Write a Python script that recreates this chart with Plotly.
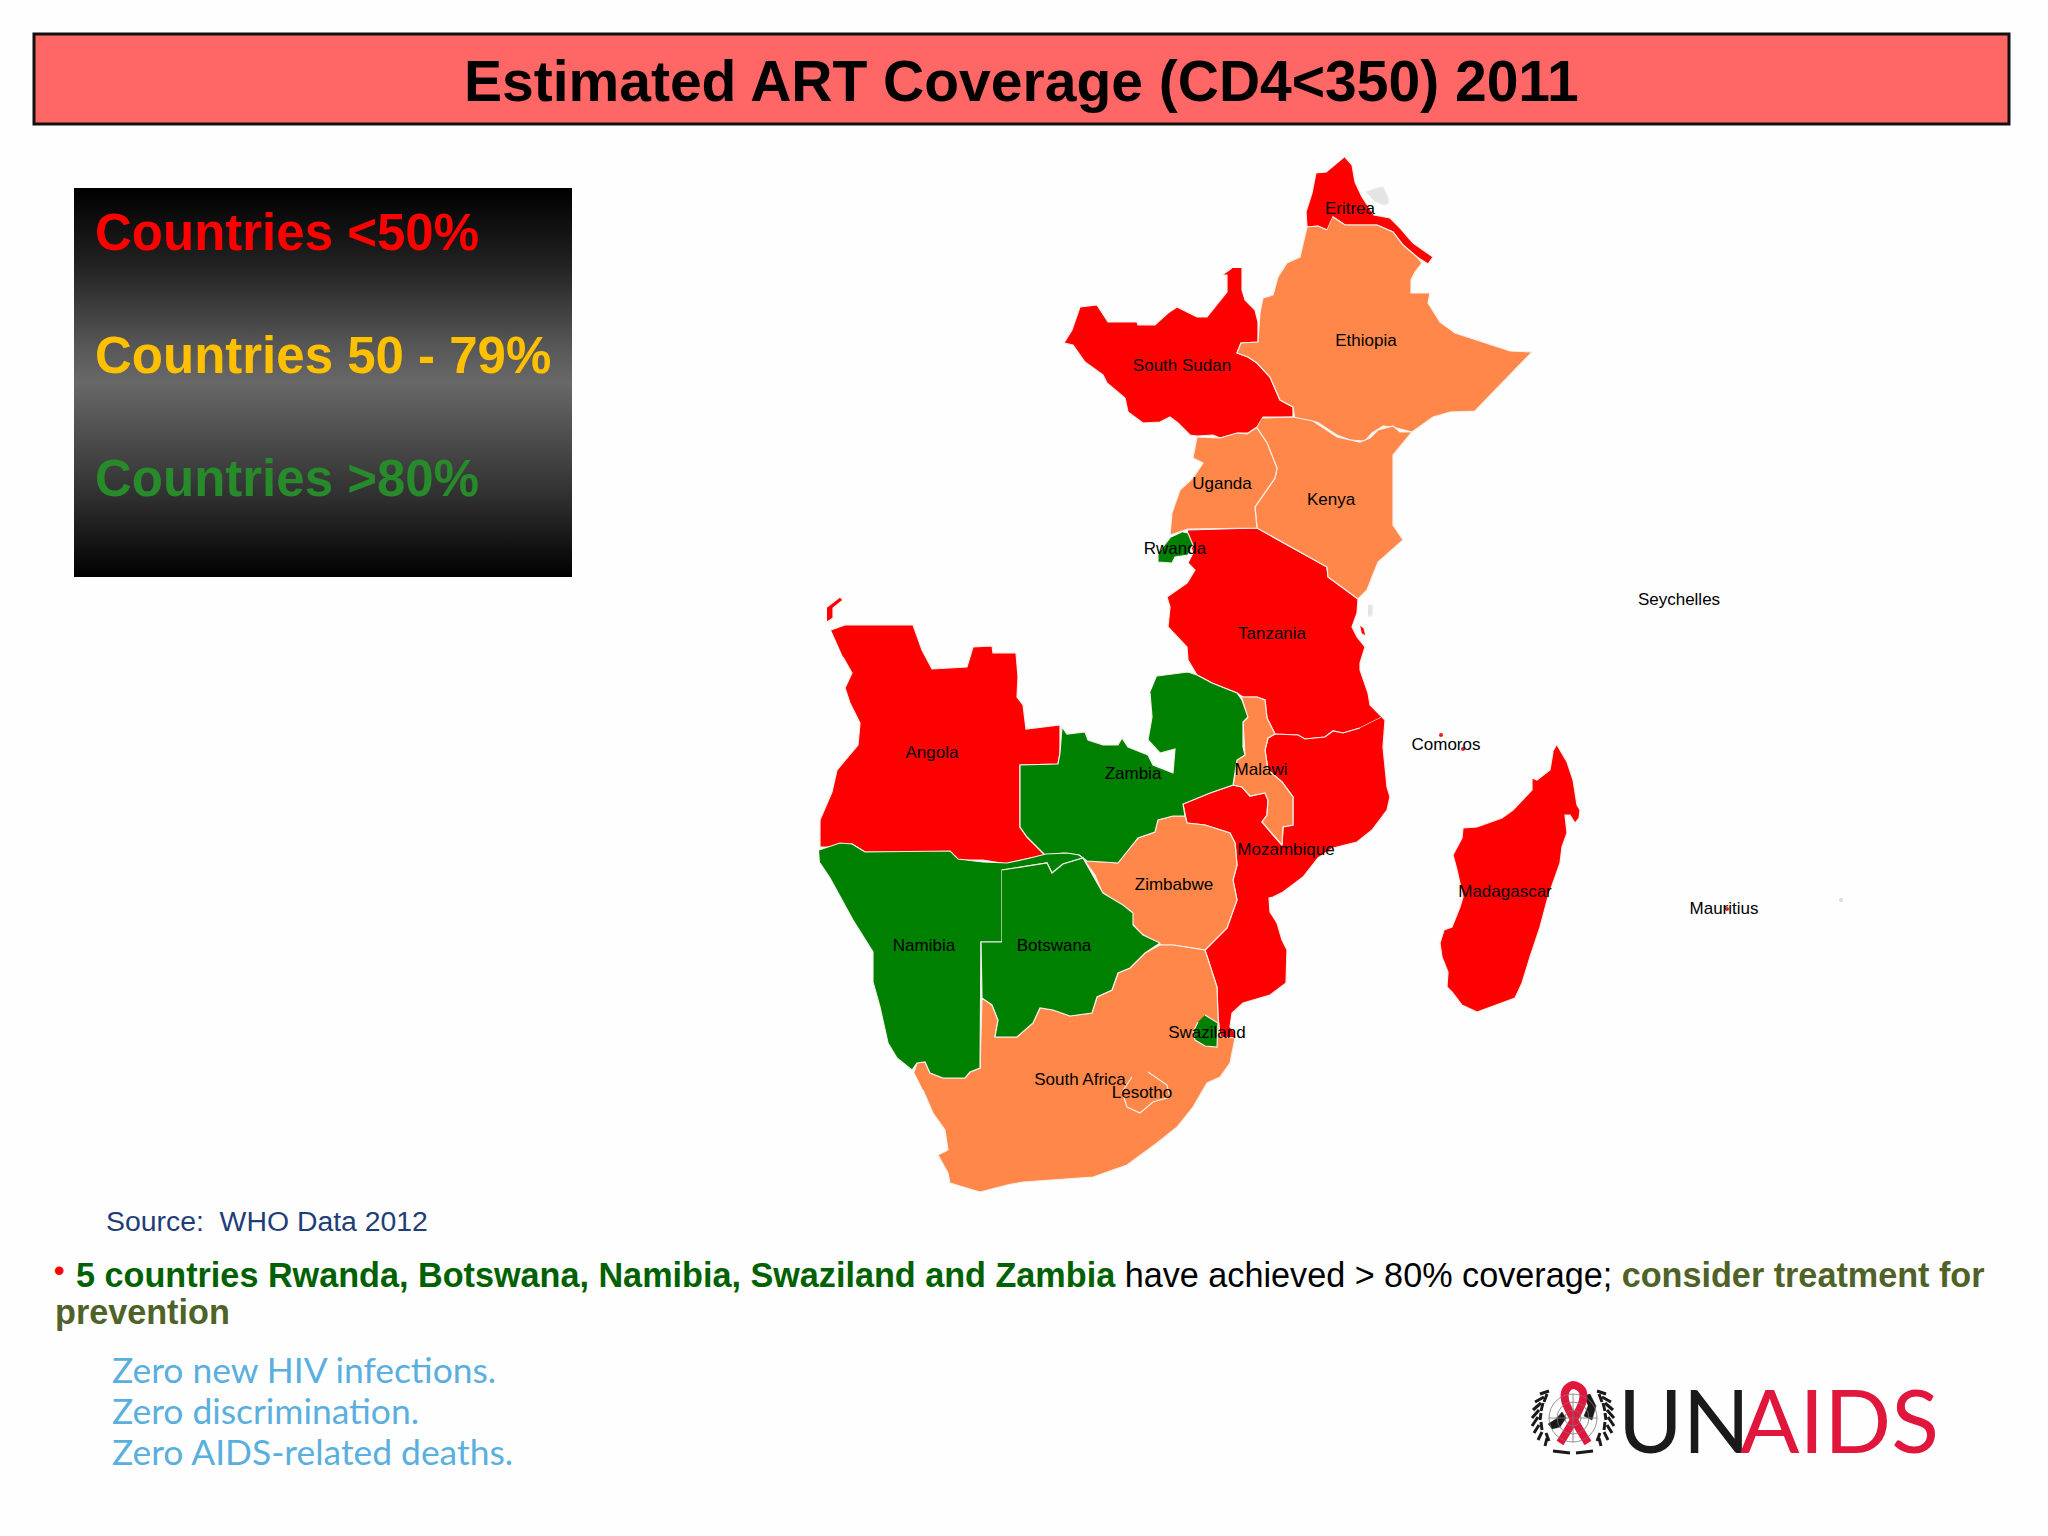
import plotly.graph_objects as go

# slide title and legend
TITLE = "Estimated ART Coverage (CD4<350) 2011"
LEGEND_TEXT = ["Countries <50%", "Countries 50 - 79%", "Countries >80%"]
LEGEND_COLOURS = ["#FF0000", "#FFC000", "#278A2B"]
LEGEND_Y = [232, 355, 478]

RED = "#FF0000"
ORANGE = "#FF8749"
GREEN = "#008000"

# country outlines
ERITREA = [(1345,157),(1352,165),(1355,182),(1362,197),(1374,215),(1390,218),(1400,228),(1413,243),(1433,257),(1428,264),(1417,257),(1403,245),(1393,232),(1377,225),(1358,225),(1345,225),(1333,217),(1327,230),(1318,226),(1307,227),(1306,212),(1312,193),(1316,173),(1327,172)]
ETHIOPIA = [(1333,217),(1345,225),(1358,225),(1377,225),(1393,232),(1403,245),(1417,257),(1422,263),(1415,272),(1411,280),(1411,293),(1430,293),(1428,303),(1440,322),(1455,333),(1483,342),(1510,351),(1532,352),(1512,373),(1493,393),(1475,411),(1450,412),(1433,417),(1412,432),(1393,427),(1383,426),(1372,433),(1365,441),(1350,440),(1337,435),(1317,422),(1295,420),(1293,407),(1280,400),(1270,377),(1257,363),(1248,357),(1237,353),(1241,343),(1258,342),(1260,313),(1263,298),(1273,295),(1278,277),(1287,263),(1300,257),(1307,227),(1318,226),(1327,230)]
SOUTH_SUDAN = [(1242,268),(1242,290),(1245,300),(1255,310),(1258,322),(1258,342),(1241,343),(1237,353),(1248,357),(1257,363),(1270,377),(1280,400),(1293,407),(1293,417),(1263,417),(1257,427),(1248,433),(1238,433),(1220,438),(1213,435),(1197,436),(1190,435),(1178,423),(1170,417),(1160,422),(1143,423),(1128,412),(1125,398),(1107,383),(1103,375),(1085,362),(1073,345),(1064,343),(1072,330),(1080,307),(1097,305),(1108,322),(1137,322),(1138,325),(1155,325),(1168,313),(1177,307),(1197,317),(1207,317),(1227,292),(1227,275),(1222,275),(1232,268)]
KENYA = [(1262,418),(1293,417),(1313,421),(1337,437),(1360,442),(1370,438),(1378,430),(1393,426),(1400,432),(1412,432),(1393,455),(1393,525),(1403,540),(1388,553),(1378,562),(1372,577),(1367,590),(1358,599),(1328,577),(1327,567),(1257,528),(1255,507),(1275,478),(1277,468),(1267,443),(1257,428)]
UGANDA = [(1257,428),(1267,443),(1277,468),(1275,478),(1255,507),(1257,528),(1188,529),(1170,535),(1172,513),(1180,490),(1193,478),(1203,463),(1193,458),(1197,437),(1220,438),(1237,433),(1248,434)]
TANZANIA = [(1188,530),(1257,528),(1327,567),(1328,577),(1358,599),(1357,613),(1352,627),(1357,637),(1365,647),(1360,663),(1360,670),(1368,693),(1370,705),(1382,717),(1360,728),(1343,733),(1333,731),(1325,737),(1305,739),(1298,735),(1275,734),(1267,718),(1265,700),(1257,697),(1243,697),(1237,693),(1212,683),(1197,675),(1188,660),(1187,647),(1168,627),(1170,607),(1167,597),(1187,583),(1195,570),(1188,563),(1193,553),(1188,540)]
RWANDA = [(1183,532),(1188,533),(1193,545),(1188,555),(1175,557),(1172,563),(1158,562),(1158,553),(1170,538)]
ANGOLA = [(831,630),(845,625),(913,625),(922,650),(932,669),(967,667),(973,647),(992,646),(993,653),(1016,653),(1018,677),(1017,697),(1023,705),(1026,729),(1060,725),(1060,753),(1058,764),(1020,765),(1020,827),(1027,837),(1046,856),(1030,858),(1007,864),(983,860),(958,860),(950,852),(865,852),(852,844),(840,847),(820,847),(820,820),(832,792),(837,770),(858,745),(860,723),(850,703),(845,688),(852,673),(843,657)]
CABINDA = [(827,607),(840,597),(843,600),(833,608),(833,618),(827,622)]
ZAMBIA = [(1157,676),(1188,672),(1197,675),(1212,683),(1237,693),(1242,700),(1248,717),(1243,722),(1243,747),(1245,755),(1237,760),(1235,775),(1233,785),(1210,793),(1183,804),(1185,816),(1173,816),(1158,820),(1155,832),(1138,838),(1128,850),(1118,863),(1103,862),(1087,861),(1079,855),(1063,853),(1046,856),(1027,837),(1020,827),(1020,765),(1058,764),(1060,753),(1062,727),(1067,734),(1085,732),(1088,740),(1103,745),(1118,745),(1122,738),(1128,747),(1148,755),(1153,765),(1173,773),(1175,749),(1160,753),(1148,740),(1152,717),(1150,693)]
MALAWI = [(1242,697),(1257,697),(1265,700),(1267,718),(1275,734),(1268,738),(1265,750),(1268,770),(1282,782),(1293,797),(1293,825),(1283,827),(1282,845),(1273,835),(1262,822),(1267,815),(1268,800),(1265,793),(1250,796),(1242,787),(1233,785),(1235,775),(1237,760),(1245,755),(1243,722),(1248,717)]
MOZAMBIQUE = [(1382,717),(1385,720),(1383,747),(1387,787),(1390,797),(1387,810),(1372,830),(1357,842),(1333,848),(1318,858),(1303,877),(1283,892),(1273,897),(1269,898),(1270,912),(1277,923),(1282,940),(1287,950),(1286,983),(1270,995),(1243,1003),(1232,1013),(1230,1027),(1235,1032),(1235,1038),(1220,1037),(1218,1017),(1217,987),(1205,950),(1227,928),(1237,900),(1233,880),(1237,865),(1235,843),(1230,833),(1205,825),(1187,823),(1183,804),(1210,793),(1233,785),(1242,787),(1250,796),(1265,793),(1268,800),(1267,815),(1262,822),(1273,835),(1282,845),(1283,827),(1293,825),(1293,797),(1282,782),(1268,770),(1265,750),(1268,738),(1275,734),(1298,735),(1305,739),(1325,737),(1333,731),(1343,733),(1360,728)]
ZIMBABWE = [(1158,820),(1173,816),(1185,816),(1187,823),(1205,825),(1230,833),(1235,843),(1237,865),(1233,880),(1237,900),(1227,928),(1205,950),(1193,948),(1173,945),(1162,945),(1140,933),(1132,923),(1132,912),(1113,900),(1102,892),(1095,875),(1085,861),(1103,862),(1118,863),(1128,850),(1138,838),(1155,832)]
BOTSWANA = [(1002,870),(1047,863),(1052,873),(1063,864),(1083,858),(1097,882),(1103,893),(1123,905),(1133,913),(1133,925),(1143,935),(1160,943),(1145,953),(1130,968),(1118,973),(1112,990),(1097,997),(1092,1013),(1070,1016),(1053,1010),(1040,1008),(1033,1023),(1017,1037),(995,1037),(998,1020),(992,1005),(982,998),(981,942),(1002,942)]
NAMIBIA = [(819,850),(840,843),(852,844),(865,852),(950,851),(958,859),(983,862),(1007,863),(1030,858),(1046,854),(1067,853),(1079,855),(1083,858),(1063,864),(1052,873),(1047,863),(1002,870),(1002,942),(981,942),(980,1068),(970,1072),(965,1078),(943,1078),(930,1073),(925,1062),(917,1063),(912,1070),(897,1058),(888,1043),(885,1030),(880,1007),(873,982),(873,952),(853,920),(830,878),(820,863)]
SOUTH_AFRICA = [(914,1072),(917,1063),(925,1062),(930,1073),(943,1078),(965,1078),(970,1072),(980,1068),(982,998),(992,1005),(998,1020),(995,1037),(1017,1037),(1033,1023),(1040,1008),(1053,1010),(1070,1016),(1092,1013),(1097,997),(1112,990),(1118,973),(1130,968),(1145,953),(1160,945),(1173,945),(1193,948),(1205,950),(1217,987),(1218,1017),(1220,1037),(1235,1038),(1230,1063),(1220,1077),(1207,1083),(1193,1107),(1177,1127),(1157,1143),(1127,1165),(1093,1177),(1023,1182),(1007,1185),(980,1192),(967,1188),(950,1183),(948,1173),(938,1155),(948,1150),(945,1130),(933,1113),(923,1090)]
SWAZILAND = [(1205,1015),(1218,1023),(1217,1047),(1205,1046),(1195,1040),(1193,1032),(1198,1022)]
LESOTHO = [(1148,1072),(1167,1085),(1170,1097),(1153,1102),(1140,1113),(1127,1107),(1122,1092),(1132,1077)]
MADAGASCAR = [(1557,745),(1567,762),(1573,780),(1577,805),(1580,810),(1579,818),(1575,823),(1570,815),(1565,815),(1567,833),(1562,847),(1560,863),(1548,897),(1540,927),(1530,957),(1522,983),(1515,998),(1497,1005),(1477,1012),(1462,1005),(1452,992),(1447,987),(1448,972),(1442,957),(1440,943),(1444,930),(1452,927),(1460,907),(1463,897),(1457,870),(1453,855),(1462,838),(1463,828),(1477,827),(1497,820),(1502,818),(1513,810),(1532,790),(1532,778),(1537,780),(1550,770),(1553,752)]
DAHLAK = [(1366,192),(1376,188),(1383,187),(1388,197),(1389,203),(1384,205),(1374,201)]
PEMBA = [(1368,605),(1373,605),(1372,616),(1368,616)]
ZANZIBAR = [(1360,625),(1364,628),(1366,636),(1362,634)]

COUNTRIES = [
    (ANGOLA, RED), (CABINDA, RED), (ERITREA, RED), (SOUTH_SUDAN, RED),
    (TANZANIA, RED), (MOZAMBIQUE, RED), (MADAGASCAR, RED), (ZANZIBAR, RED),
    (ETHIOPIA, ORANGE), (KENYA, ORANGE), (UGANDA, ORANGE), (MALAWI, ORANGE),
    (ZIMBABWE, ORANGE), (SOUTH_AFRICA, ORANGE), (LESOTHO, ORANGE),
    (ZAMBIA, GREEN), (NAMIBIA, GREEN), (BOTSWANA, GREEN), (RWANDA, GREEN), (SWAZILAND, GREEN),
    (DAHLAK, "#E4E4E4"), (PEMBA, "#E4E4E4"),
]

LABELS = ["Eritrea", "Ethiopia", "South Sudan", "Uganda", "Kenya", "Rwanda", "Tanzania", "Seychelles", "Comoros",
          "Angola", "Zambia", "Malawi", "Mozambique", "Zimbabwe", "Madagascar", "Mauritius",
          "Namibia", "Botswana", "Swaziland", "South Africa", "Lesotho"]
LABEL_X = [1350, 1366, 1182, 1222, 1331, 1175, 1272, 1679, 1446, 932, 1133, 1261, 1286, 1174, 1505, 1724, 924, 1054, 1207, 1080, 1142]
LABEL_Y = [210, 342, 367, 485, 501, 550, 635, 601, 746, 754, 775, 771, 851, 886, 893, 910, 947, 947, 1034, 1081, 1094]

# small islands too tiny for an outline
ISLET_X = [1441, 1463, 1727, 1841]
ISLET_Y = [735, 749, 909, 900]
ISLET_COLOURS = ["#E02020", "#E02020", "#E02020", "#DDDDDD"]

ZERO_LINES = ["Zero new HIV infections.", "Zero discrimination.", "Zero AIDS-related deaths."]
ZERO_Y = [1369, 1410, 1451]

fig = go.Figure()

# dark legend panel
fig.add_trace(go.Scatter(
    x=[74, 572, 572, 74, 74], y=[188, 188, 577, 577, 188],
    mode="lines", line=dict(width=0), fill="toself",
    fillgradient=dict(type="vertical", colorscale=[
        [0, "#000000"], [0.2, "#2E2E2E"], [0.5, "#686868"], [0.6, "#555555"], [0.8, "#222222"], [1, "#000000"]]),
    hoverinfo="skip",
))

for outline, colour in COUNTRIES:
    xs, ys = zip(*outline)
    fig.add_trace(go.Scatter(
        x=xs, y=ys, mode="lines", fill="toself", fillcolor=colour,
        line=dict(color="#F4EFE9", width=1.2), hoverinfo="skip",
    ))

fig.add_trace(go.Scatter(
    x=ISLET_X, y=ISLET_Y, mode="markers",
    marker=dict(color=ISLET_COLOURS, size=4), hoverinfo="skip",
))

fig.add_trace(go.Scatter(
    x=LABEL_X, y=LABEL_Y, mode="text", text=LABELS, textposition="middle center",
    textfont=dict(family="Liberation Sans", size=17, color="#000000"), hoverinfo="skip",
))

# UN emblem next to the logo text
GLOBE_CENTRE = (1573, 1418)
for r in [24, 16, 8]:
    fig.add_shape(type="circle", x0=GLOBE_CENTRE[0]-r, x1=GLOBE_CENTRE[0]+r, y0=GLOBE_CENTRE[1]-r, y1=GLOBE_CENTRE[1]+r,
                  line=dict(color="#777777", width=0.8))
fig.add_shape(type="line", x0=1549, x1=1597, y0=1418, y1=1418, line=dict(color="#777777", width=0.8))
fig.add_shape(type="line", x0=1573, x1=1573, y0=1394, y1=1442, line=dict(color="#777777", width=0.8))

LAND_LEFT = [(1548,1424),(1556,1419),(1562,1412),(1566,1418),(1560,1427),(1552,1429)]
LAND_RIGHT = [(1584,1396),(1590,1394),(1596,1406),(1592,1420),(1584,1416),(1588,1406)]
for land in [LAND_LEFT, LAND_RIGHT]:
    xs, ys = zip(*land)
    fig.add_trace(go.Scatter(x=xs, y=ys, mode="lines", fill="toself", fillcolor="#1A1A1A",
                             line=dict(color="#1A1A1A", width=0.5), hoverinfo="skip"))

WREATH_X = [1549,1540,None,1544,1535,None,1541,1533,None,1539,1532,None,1538,1532,None,1539,1534,None,1542,1538,None,1547,1545,None,
            1547,1544,None,1543,1541,None,1541,1540,None,1541,1542,None,1546,1549,None,1553,1570]
WREATH_Y = [1391,1394,None,1397,1402,None,1403,1410,None,1410,1418,None,1417,1426,None,1425,1433,None,1432,1440,None,1438,1446,None,
            1394,1402,None,1403,1411,None,1413,1420,None,1422,1430,None,1433,1441,None,1451,1453]
fig.add_trace(go.Scatter(x=WREATH_X, y=WREATH_Y, mode="lines", line=dict(color="#1A1A1A", width=3), hoverinfo="skip"))
fig.add_trace(go.Scatter(x=[2*1573 - v if v is not None else None for v in WREATH_X], y=WREATH_Y, mode="lines",
                         line=dict(color="#1A1A1A", width=3), hoverinfo="skip"))

RIBBON_X = [1560, 1583, 1582, 1573, 1566, 1565, 1588]
RIBBON_Y = [1443, 1400, 1390, 1385, 1390, 1400, 1443]
fig.add_trace(go.Scatter(x=RIBBON_X, y=RIBBON_Y, mode="lines", line=dict(color="#E0163C", width=8, shape="spline"), hoverinfo="skip"))

# title bar
fig.add_shape(type="rect", x0=34, x1=2009, y0=34, y1=124, fillcolor="#FF6666", line=dict(color="#111111", width=3), layer="below")

def note(text, x, y, size, colour, family="Liberation Sans", anchor="left", bold=False):
    fig.add_annotation(
        x=x, y=y, text=f"<b>{text}</b>" if bold else text, showarrow=False,
        xanchor=anchor, yanchor="middle",
        font=dict(family=family, size=size, color=colour),
    )

note(TITLE.replace("<", "&lt;"), 1021, 81, 57, "#000000", anchor="center", bold=True)

for label, colour, y in zip(LEGEND_TEXT, LEGEND_COLOURS, LEGEND_Y):
    note(label.replace("<", "&lt;"), 93, y, 51, colour, bold=True)

note("Source:\u00a0\u00a0WHO Data 2012", 104, 1221, 28.4, "#1F3E77")

note("•", 52, 1270, 30, "#FF0000", bold=True)
note(
    '<span style="color:#006100"><b>5 countries Rwanda, Botswana, Namibia, Swaziland and Zambia</b></span>'
    ' have achieved &gt; 80% coverage; '
    '<span style="color:#4F6228"><b>consider treatment for</b></span>',
    74, 1275, 34.2, "#000000",
)
note("prevention", 53, 1312, 34.2, "#4F6228", bold=True)

for line, y in zip(ZERO_LINES, ZERO_Y):
    note(line, 110, y, 35.4, "#5AAFDF", family="Lato")

note("UN", 1616, 1419, 88, "#1A1A1A", family="Lato")
note("AIDS", 1738, 1419, 88, "#E0163C", family="Lato")

fig.update_layout(
    width=2048, height=1536, margin=dict(l=0, r=0, t=0, b=0),
    paper_bgcolor="#FEFEFE", plot_bgcolor="#FEFEFE", showlegend=False,
    xaxis=dict(range=[0, 2048], visible=False, fixedrange=True),
    yaxis=dict(range=[1536, 0], visible=False, fixedrange=True),
)

fig.write_html("out.html", config=dict(displayModeBar=False), post_script="document.body.style.margin='0';")
